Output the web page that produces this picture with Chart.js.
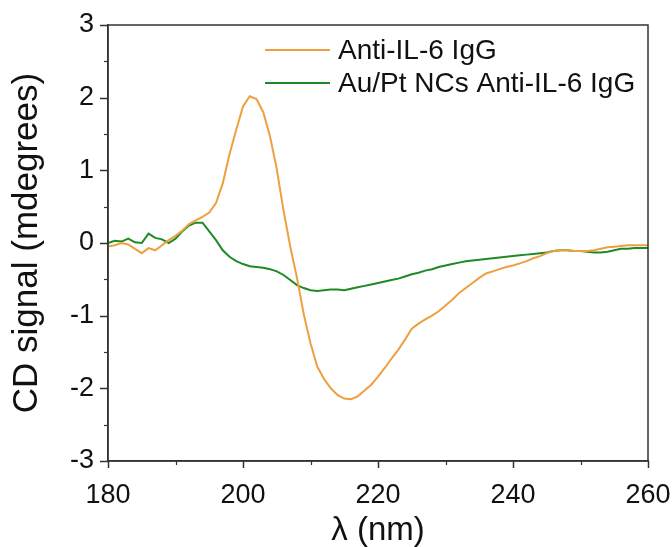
<!DOCTYPE html>
<html>
<head>
<meta charset="utf-8">
<script src="https://cdn.jsdelivr.net/npm/chart.js@4.4.1/dist/chart.umd.min.js"></script>
<style>
  html, body { margin: 0; padding: 0; background: #fff; }
  #wrap { width: 672px; height: 547px; position: relative; }
</style>
</head>
<body>
<div id="wrap"><canvas id="cd"></canvas></div>
<script>
// Wavelength grid (nm)
const wavelengths = [];
for (let w = 180; w <= 260; w++) wavelengths.push(w);

// CD spectrum of the free antibody (mdeg)
const antiIL6 = [
  -0.05, -0.03, 0.00, -0.02, -0.08, -0.14, -0.07, -0.10, -0.03, 0.04,
  0.10, 0.17, 0.26, 0.31, 0.36, 0.42, 0.55, 0.82, 1.22, 1.56,
  1.88, 2.02, 1.98, 1.80, 1.47, 1.02, 0.45, -0.05, -0.48, -0.98,
  -1.38, -1.70, -1.87, -2.00, -2.09, -2.14, -2.15, -2.11, -2.03, -1.95,
  -1.84, -1.72, -1.59, -1.47, -1.33, -1.18, -1.11, -1.05, -1.00, -0.94,
  -0.86, -0.78, -0.69, -0.62, -0.55, -0.48, -0.42, -0.39, -0.36, -0.33,
  -0.31, -0.28, -0.25, -0.21, -0.18, -0.14, -0.11, -0.10, -0.10, -0.11,
  -0.11, -0.11, -0.10, -0.08, -0.06, -0.05, -0.04, -0.03, -0.03, -0.03,
  -0.03
];

// CD spectrum of the Au/Pt nanocluster conjugate (mdeg)
const auPtAntiIL6 = [
  0.00, 0.03, 0.02, 0.06, 0.01, 0.00, 0.13, 0.07, 0.05, 0.00,
  0.06, 0.16, 0.24, 0.28, 0.28, 0.16, 0.04, -0.10, -0.19, -0.25,
  -0.29, -0.32, -0.33, -0.34, -0.36, -0.39, -0.44, -0.51, -0.58, -0.62,
  -0.65, -0.66, -0.65, -0.64, -0.64, -0.65, -0.63, -0.61, -0.59, -0.57,
  -0.55, -0.53, -0.51, -0.49, -0.46, -0.43, -0.41, -0.38, -0.36, -0.33,
  -0.31, -0.29, -0.27, -0.25, -0.24, -0.23, -0.22, -0.21, -0.20, -0.19,
  -0.18, -0.17, -0.16, -0.15, -0.14, -0.13, -0.11, -0.10, -0.10, -0.11,
  -0.11, -0.12, -0.13, -0.13, -0.12, -0.10, -0.08, -0.08, -0.07, -0.07,
  -0.07
];

const seriesNames = ['Anti-IL-6 IgG', 'Au/Pt NCs Anti-IL-6 IgG'];
const seriesColors = ['#EDA040', '#1F8A24'];

const xTicks = [180, 200, 220, 240, 260];
const yTicks = [-3, -2, -1, 0, 1, 2, 3];

const FONT = "'Liberation Sans', Arial, sans-serif";
const AXIS = '#333333';

const toPoints = (vals) => vals.map((v, i) => ({ x: wavelengths[i], y: v }));

// Tick marks, closed frame and in-plot legend
const framePlugin = {
  id: 'frame',
  afterDraw(chart) {
    const { ctx, chartArea: a, scales: { x, y } } = chart;
    ctx.save();
    ctx.strokeStyle = AXIS;
    ctx.lineWidth = 1.5;
    ctx.strokeRect(a.left, a.top, a.right - a.left, a.bottom - a.top);

    // x ticks: major every 20 nm, minor halfway
    for (let v = 180; v <= 260; v += 10) {
      const major = v % 20 === 0;
      const px = Math.round(x.getPixelForValue(v)) + 0.5;
      ctx.lineWidth = major ? 1.5 : 1.2;
      ctx.beginPath(); ctx.moveTo(px, a.bottom); ctx.lineTo(px, a.bottom + (major ? 7 : 4)); ctx.stroke();
    }
    // y ticks: major every 1, minor every 0.5
    for (let v = -3; v <= 3; v += 0.5) {
      const major = Number.isInteger(v);
      const py = Math.round(y.getPixelForValue(v)) + 0.5;
      ctx.lineWidth = major ? 1.5 : 1.2;
      ctx.beginPath(); ctx.moveTo(a.left, py); ctx.lineTo(a.left - (major ? 8 : 4), py); ctx.stroke();
    }

    // legend
    const lx0 = a.left + 157, lx1 = a.left + 222, tx = a.left + 230;
    const rows = [a.top + 25, a.top + 58];
    ctx.font = '28px ' + FONT;
    ctx.textBaseline = 'middle';
    ctx.textAlign = 'left';
    chart.data.datasets.forEach((ds, i) => {
      ctx.strokeStyle = ds.borderColor;
      ctx.lineWidth = 2;
      ctx.beginPath(); ctx.moveTo(lx0, rows[i]); ctx.lineTo(lx1, rows[i]); ctx.stroke();
      ctx.fillStyle = '#111';
      ctx.fillText(ds.label, tx, rows[i] + 1);
    });
    ctx.restore();
  }
};

new Chart(document.getElementById('cd'), {
  type: 'line',
  data: {
    datasets: [
      { label: seriesNames[0], data: toPoints(antiIL6), borderColor: seriesColors[0] },
      { label: seriesNames[1], data: toPoints(auPtAntiIL6), borderColor: seriesColors[1] }
    ]
  },
  options: {
    responsive: true,
    maintainAspectRatio: false,
    animation: false,
    devicePixelRatio: 1,
    layout: { padding: { top: 25, right: 24, left: 0, bottom: 0 } },
    elements: {
      line: { borderWidth: 2, tension: 0 },
      point: { radius: 0 }
    },
    plugins: { legend: { display: false }, tooltip: { enabled: false } },
    scales: {
      x: {
        type: 'linear',
        min: 180, max: 260,
        afterBuildTicks: (s) => { s.ticks = xTicks.map(v => ({ value: v })); },
        afterFit: (s) => { s.height = 86; },
        ticks: { font: { family: FONT, size: 27 }, color: '#111', padding: 1, maxRotation: 0 },
        grid: { drawOnChartArea: false, drawTicks: true, tickLength: 17, tickColor: 'rgba(0,0,0,0)' },
        border: { display: true, color: AXIS, width: 1.5 },
        title: { display: true, text: 'λ (nm)', font: { family: FONT, size: 33 }, color: '#111', padding: { top: 2, bottom: -4 } }
      },
      y: {
        type: 'linear',
        min: -3, max: 3,
        afterBuildTicks: (s) => { s.ticks = yTicks.map(v => ({ value: v })); },
        afterFit: (s) => { s.width = 108; },
        ticks: { font: { family: FONT, size: 27 }, color: '#111', padding: 6 },
        grid: { drawOnChartArea: false, drawTicks: true, tickLength: 8, tickColor: 'rgba(0,0,0,0)' },
        border: { display: true, color: AXIS, width: 1.5 },
        title: { display: true, text: 'CD signal (mdegrees)', font: { family: FONT, size: 35 }, color: '#111', padding: { top: 6, bottom: 0 } }
      }
    }
  },
  plugins: [framePlugin]
});
</script>
</body>
</html>
